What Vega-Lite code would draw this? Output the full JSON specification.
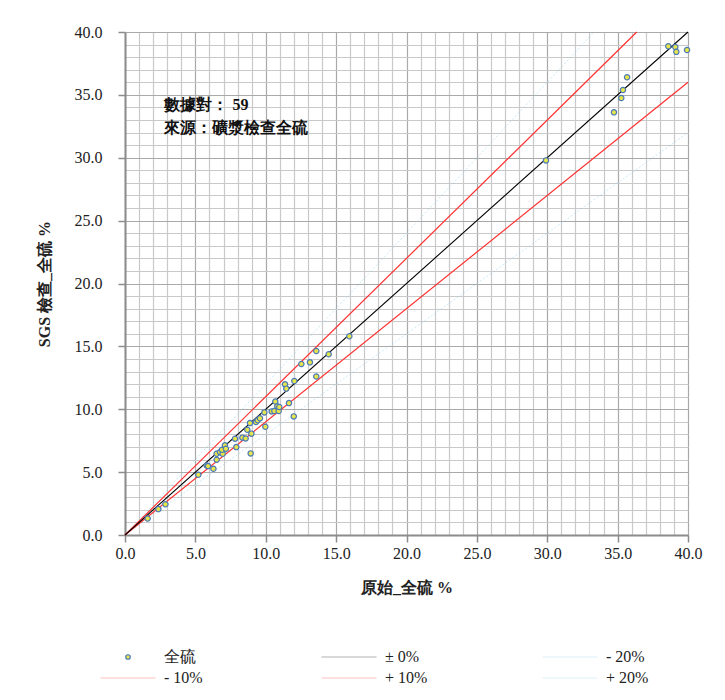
{
  "$schema": "https://vega.github.io/schema/vega-lite/v6.json",
  "width": 563,
  "height": 503,
  "autosize": {"type": "none"},
  "padding": {"left": 125, "top": 32, "right": 37, "bottom": 165},
  "background": "white",
  "config": {
    "view": {"stroke": null},
    "font": "Liberation Serif",
    "text": {"font": "Liberation Serif"},
    "axis": {
      "titleFont": "Liberation Serif", "titleFontSize": 16, "titleFontWeight": "bold", "titleColor": "#222",
      "labelFont": "Liberation Serif", "labelFontSize": 16, "labelColor": "#222",
      "labelOverlap": false, "labelFlush": false, "labelBound": false,
      "domainColor": "#8c8c8c", "domainWidth": 2, "tickColor": "#8c8c8c", "tickWidth": 1.5, "gridWidth": 1.2
    },
    "legend": {"labelFont": "Liberation Serif", "labelFontSize": 16, "labelColor": "#222"}
  },
  "datasets": {
    "pts": [
      {"series": "全硫", "orig": 1.61, "sgs": 1.31},
      {"series": "全硫", "orig": 2.37, "sgs": 2.06},
      {"series": "全硫", "orig": 2.87, "sgs": 2.45},
      {"series": "全硫", "orig": 5.21, "sgs": 4.79},
      {"series": "全硫", "orig": 5.80, "sgs": 5.53},
      {"series": "全硫", "orig": 5.90, "sgs": 5.48},
      {"series": "全硫", "orig": 6.28, "sgs": 5.27},
      {"series": "全硫", "orig": 6.51, "sgs": 5.99},
      {"series": "全硫", "orig": 6.51, "sgs": 6.46},
      {"series": "全硫", "orig": 6.75, "sgs": 6.59},
      {"series": "全硫", "orig": 6.94, "sgs": 6.46},
      {"series": "全硫", "orig": 6.89, "sgs": 6.78},
      {"series": "全硫", "orig": 7.10, "sgs": 7.13},
      {"series": "全硫", "orig": 7.17, "sgs": 6.86},
      {"series": "全硫", "orig": 7.82, "sgs": 7.66},
      {"series": "全硫", "orig": 7.91, "sgs": 6.99},
      {"series": "全硫", "orig": 8.34, "sgs": 7.74},
      {"series": "全硫", "orig": 8.57, "sgs": 7.68},
      {"series": "全硫", "orig": 8.69, "sgs": 8.37},
      {"series": "全硫", "orig": 8.88, "sgs": 8.90},
      {"series": "全硫", "orig": 8.98, "sgs": 8.06},
      {"series": "全硫", "orig": 8.93, "sgs": 6.49},
      {"series": "全硫", "orig": 9.31, "sgs": 8.98},
      {"series": "全硫", "orig": 9.43, "sgs": 9.12},
      {"series": "全硫", "orig": 9.59, "sgs": 9.28},
      {"series": "全硫", "orig": 9.90, "sgs": 9.75},
      {"series": "全硫", "orig": 9.97, "sgs": 8.61},
      {"series": "全硫", "orig": 10.42, "sgs": 9.83},
      {"series": "全硫", "orig": 10.61, "sgs": 9.86},
      {"series": "全硫", "orig": 10.68, "sgs": 10.61},
      {"series": "全硫", "orig": 10.82, "sgs": 10.23},
      {"series": "全硫", "orig": 10.92, "sgs": 9.86},
      {"series": "全硫", "orig": 10.96, "sgs": 10.18},
      {"series": "全硫", "orig": 11.37, "sgs": 11.98},
      {"series": "全硫", "orig": 11.46, "sgs": 11.64},
      {"series": "全硫", "orig": 11.65, "sgs": 10.49},
      {"series": "全硫", "orig": 11.99, "sgs": 9.43},
      {"series": "全硫", "orig": 12.03, "sgs": 12.25},
      {"series": "全硫", "orig": 12.53, "sgs": 13.60},
      {"series": "全硫", "orig": 13.14, "sgs": 13.73},
      {"series": "全硫", "orig": 13.59, "sgs": 12.60},
      {"series": "全硫", "orig": 13.59, "sgs": 14.63},
      {"series": "全硫", "orig": 14.47, "sgs": 14.37},
      {"series": "全硫", "orig": 15.94, "sgs": 15.80},
      {"series": "全硫", "orig": 29.91, "sgs": 29.79},
      {"series": "全硫", "orig": 34.74, "sgs": 33.61},
      {"series": "全硫", "orig": 35.26, "sgs": 34.75},
      {"series": "全硫", "orig": 35.38, "sgs": 35.39},
      {"series": "全硫", "orig": 35.67, "sgs": 36.40},
      {"series": "全硫", "orig": 38.60, "sgs": 38.87},
      {"series": "全硫", "orig": 39.10, "sgs": 38.81},
      {"series": "全硫", "orig": 39.17, "sgs": 38.42},
      {"series": "全硫", "orig": 39.93, "sgs": 38.57}
    ],
    "refs": [
      {"series": "± 0%", "orig": 0, "sgs": 0},
      {"series": "± 0%", "orig": 40, "sgs": 40},
      {"series": "+ 10%", "orig": 0, "sgs": 0},
      {"series": "+ 10%", "orig": 36.36, "sgs": 40},
      {"series": "- 10%", "orig": 0, "sgs": 0},
      {"series": "- 10%", "orig": 40, "sgs": 36},
      {"series": "+ 20%", "orig": 0, "sgs": 0},
      {"series": "+ 20%", "orig": 33.33, "sgs": 40},
      {"series": "- 20%", "orig": 0, "sgs": 0},
      {"series": "- 20%", "orig": 40, "sgs": 32}
    ],
    "notes": [
      {"note": "數據對： 59\n來源：礦漿檢查全硫"}
    ]
  },
  "layer": [
    {
      "data": {"name": "refs"},
      "transform": [{"filter": "datum.series === '+ 20%' || datum.series === '- 20%'"}],
      "mark": {"type": "line", "strokeWidth": 0.8, "strokeDash": [2, 2], "opacity": 0.6},
      "encoding": {
        "x": {
          "field": "orig", "type": "quantitative",
          "scale": {"domain": [0, 40], "nice": false, "zero": true},
          "axis": {
            "values": [0,1,2,3,4,5,6,7,8,9,10,11,12,13,14,15,16,17,18,19,20,21,22,23,24,25,26,27,28,29,30,31,32,33,34,35,36,37,38,39,40],
            "labelExpr": "datum.value % 5 === 0 ? format(datum.value, '.1f') : ''",
            "tickSize": {"condition": {"test": "datum.value % 5 === 0", "value": 7}, "value": 0},
            "grid": true,
            "gridColor": {"condition": {"test": "datum.value % 5 === 0", "value": "#a9a9a9"}, "value": "#c9c9c9"},
            "title": "原始_全硫 %", "labelPadding": 3, "titlePadding": 18,
            "labelFont": "Liberation Serif", "titleFont": "Liberation Serif"
          }
        },
        "y": {
          "field": "sgs", "type": "quantitative",
          "scale": {"domain": [0, 40], "nice": false, "zero": true},
          "axis": {
            "values": [0,1,2,3,4,5,6,7,8,9,10,11,12,13,14,15,16,17,18,19,20,21,22,23,24,25,26,27,28,29,30,31,32,33,34,35,36,37,38,39,40],
            "labelExpr": "datum.value % 5 === 0 ? format(datum.value, '.1f') : ''",
            "tickSize": {"condition": {"test": "datum.value % 5 === 0", "value": 7}, "value": 0},
            "grid": true,
            "gridColor": {"condition": {"test": "datum.value % 5 === 0", "value": "#a9a9a9"}, "value": "#c9c9c9"},
            "title": "SGS 檢查_全硫 %", "labelPadding": 16, "titlePadding": 22,
            "labelFont": "Liberation Serif", "titleFont": "Liberation Serif"
          }
        },
        "stroke": {
          "field": "series", "type": "nominal",
          "scale": {
            "domain": ["全硫", "± 0%", "- 20%", "- 10%", "+ 10%", "+ 20%"],
            "range": ["transparent", "#000000", "#8fcfee", "#ff3030", "#ff3030", "#8fcfee"]
          },
          "legend": {
            "orient": "none", "legendX": -25, "legendY": 616,
            "columns": 3, "direction": "horizontal", "title": null,
            "gridAlign": "all", "columnPadding": 114, "rowPadding": 3, "padding": 0,
            "symbolType": "stroke", "symbolSize": 3025, "symbolStrokeWidth": 1, "symbolOpacity": 0.3,
            "clipHeight": 18,
            "labelFont": "Liberation Serif", "labelFontSize": 16, "labelColor": "#222", "labelOffset": 8
          }
        },
        "detail": {"field": "series"}
      }
    },
    {
      "data": {"name": "refs"},
      "transform": [{"filter": "datum.series === '+ 10%' || datum.series === '- 10%'"}],
      "mark": {"type": "line", "strokeWidth": 1.2},
      "encoding": {
        "x": {
          "field": "orig", "type": "quantitative",
          "axis": {
            "values": [0,1,2,3,4,5,6,7,8,9,10,11,12,13,14,15,16,17,18,19,20,21,22,23,24,25,26,27,28,29,30,31,32,33,34,35,36,37,38,39,40],
            "labelExpr": "datum.value % 5 === 0 ? format(datum.value, '.1f') : ''",
            "tickSize": {"condition": {"test": "datum.value % 5 === 0", "value": 7}, "value": 0},
            "grid": true,
            "gridColor": {"condition": {"test": "datum.value % 5 === 0", "value": "#a9a9a9"}, "value": "#c9c9c9"},
            "title": "原始_全硫 %", "labelPadding": 3, "titlePadding": 18,
            "labelFont": "Liberation Serif", "titleFont": "Liberation Serif"
          }
        },
        "y": {
          "field": "sgs", "type": "quantitative",
          "axis": {
            "values": [0,1,2,3,4,5,6,7,8,9,10,11,12,13,14,15,16,17,18,19,20,21,22,23,24,25,26,27,28,29,30,31,32,33,34,35,36,37,38,39,40],
            "labelExpr": "datum.value % 5 === 0 ? format(datum.value, '.1f') : ''",
            "tickSize": {"condition": {"test": "datum.value % 5 === 0", "value": 7}, "value": 0},
            "grid": true,
            "gridColor": {"condition": {"test": "datum.value % 5 === 0", "value": "#a9a9a9"}, "value": "#c9c9c9"},
            "title": "SGS 檢查_全硫 %", "labelPadding": 16, "titlePadding": 22,
            "labelFont": "Liberation Serif", "titleFont": "Liberation Serif"
          }
        },
        "stroke": {"field": "series", "type": "nominal"},
        "detail": {"field": "series"}
      }
    },
    {
      "data": {"name": "refs"},
      "transform": [{"filter": "datum.series === '± 0%'"}],
      "mark": {"type": "line", "strokeWidth": 1.1},
      "encoding": {
        "x": {
          "field": "orig", "type": "quantitative",
          "axis": {
            "values": [0,1,2,3,4,5,6,7,8,9,10,11,12,13,14,15,16,17,18,19,20,21,22,23,24,25,26,27,28,29,30,31,32,33,34,35,36,37,38,39,40],
            "labelExpr": "datum.value % 5 === 0 ? format(datum.value, '.1f') : ''",
            "tickSize": {"condition": {"test": "datum.value % 5 === 0", "value": 7}, "value": 0},
            "grid": true,
            "gridColor": {"condition": {"test": "datum.value % 5 === 0", "value": "#a9a9a9"}, "value": "#c9c9c9"},
            "title": "原始_全硫 %", "labelPadding": 3, "titlePadding": 18,
            "labelFont": "Liberation Serif", "titleFont": "Liberation Serif"
          }
        },
        "y": {
          "field": "sgs", "type": "quantitative",
          "axis": {
            "values": [0,1,2,3,4,5,6,7,8,9,10,11,12,13,14,15,16,17,18,19,20,21,22,23,24,25,26,27,28,29,30,31,32,33,34,35,36,37,38,39,40],
            "labelExpr": "datum.value % 5 === 0 ? format(datum.value, '.1f') : ''",
            "tickSize": {"condition": {"test": "datum.value % 5 === 0", "value": 7}, "value": 0},
            "grid": true,
            "gridColor": {"condition": {"test": "datum.value % 5 === 0", "value": "#a9a9a9"}, "value": "#c9c9c9"},
            "title": "SGS 檢查_全硫 %", "labelPadding": 16, "titlePadding": 22,
            "labelFont": "Liberation Serif", "titleFont": "Liberation Serif"
          }
        },
        "stroke": {"field": "series", "type": "nominal"}
      }
    },
    {
      "data": {"name": "pts"},
      "mark": {"type": "point", "shape": "circle", "stroke": "#4a78b8", "filled": false, "fillOpacity": 1, "strokeWidth": 1.2, "size": 28, "opacity": 1},
      "encoding": {
        "x": {
          "field": "orig", "type": "quantitative",
          "axis": {
            "values": [0,1,2,3,4,5,6,7,8,9,10,11,12,13,14,15,16,17,18,19,20,21,22,23,24,25,26,27,28,29,30,31,32,33,34,35,36,37,38,39,40],
            "labelExpr": "datum.value % 5 === 0 ? format(datum.value, '.1f') : ''",
            "tickSize": {"condition": {"test": "datum.value % 5 === 0", "value": 7}, "value": 0},
            "grid": true,
            "gridColor": {"condition": {"test": "datum.value % 5 === 0", "value": "#a9a9a9"}, "value": "#c9c9c9"},
            "title": "原始_全硫 %", "labelPadding": 3, "titlePadding": 18,
            "labelFont": "Liberation Serif", "titleFont": "Liberation Serif"
          }
        },
        "y": {
          "field": "sgs", "type": "quantitative",
          "axis": {
            "values": [0,1,2,3,4,5,6,7,8,9,10,11,12,13,14,15,16,17,18,19,20,21,22,23,24,25,26,27,28,29,30,31,32,33,34,35,36,37,38,39,40],
            "labelExpr": "datum.value % 5 === 0 ? format(datum.value, '.1f') : ''",
            "tickSize": {"condition": {"test": "datum.value % 5 === 0", "value": 7}, "value": 0},
            "grid": true,
            "gridColor": {"condition": {"test": "datum.value % 5 === 0", "value": "#a9a9a9"}, "value": "#c9c9c9"},
            "title": "SGS 檢查_全硫 %", "labelPadding": 16, "titlePadding": 22,
            "labelFont": "Liberation Serif", "titleFont": "Liberation Serif"
          }
        },
        "fill": {
          "field": "series", "type": "nominal",
          "scale": {"domain": ["全硫"], "range": ["#e6e64a"]},
          "legend": {
            "orient": "none", "legendX": -5, "legendY": 616,
            "title": null, "padding": 0, "clipHeight": 18,
            "symbolType": "circle", "symbolSize": 20, "symbolStrokeColor": "#4a78b8", "symbolStrokeWidth": 1.2,
            "symbolFillColor": "#e6e64a", "symbolOpacity": 1,
            "labelExpr": "''", "labelFontSize": 16
          }
        }
      }
    },
    {
      "data": {"name": "notes"},
      "mark": {
        "type": "text",
        "align": "left", "baseline": "top",
        "font": "Liberation Serif", "fontSize": 16, "fontWeight": "bold",
        "lineHeight": 23, "lineBreak": "\n", "color": "#111"
      },
      "encoding": {
        "text": {"field": "note", "type": "nominal"},
        "x": {
          "datum": 2.8, "type": "quantitative",
          "axis": {
            "values": [0,1,2,3,4,5,6,7,8,9,10,11,12,13,14,15,16,17,18,19,20,21,22,23,24,25,26,27,28,29,30,31,32,33,34,35,36,37,38,39,40],
            "labelExpr": "datum.value % 5 === 0 ? format(datum.value, '.1f') : ''",
            "tickSize": {"condition": {"test": "datum.value % 5 === 0", "value": 7}, "value": 0},
            "grid": true,
            "gridColor": {"condition": {"test": "datum.value % 5 === 0", "value": "#a9a9a9"}, "value": "#c9c9c9"},
            "title": "原始_全硫 %", "labelPadding": 3, "titlePadding": 18,
            "labelFont": "Liberation Serif", "titleFont": "Liberation Serif"
          }
        },
        "y": {
          "datum": 34.8, "type": "quantitative",
          "axis": {
            "values": [0,1,2,3,4,5,6,7,8,9,10,11,12,13,14,15,16,17,18,19,20,21,22,23,24,25,26,27,28,29,30,31,32,33,34,35,36,37,38,39,40],
            "labelExpr": "datum.value % 5 === 0 ? format(datum.value, '.1f') : ''",
            "tickSize": {"condition": {"test": "datum.value % 5 === 0", "value": 7}, "value": 0},
            "grid": true,
            "gridColor": {"condition": {"test": "datum.value % 5 === 0", "value": "#a9a9a9"}, "value": "#c9c9c9"},
            "title": "SGS 檢查_全硫 %", "labelPadding": 16, "titlePadding": 22,
            "labelFont": "Liberation Serif", "titleFont": "Liberation Serif"
          }
        }
      }
    }
  ]
}
